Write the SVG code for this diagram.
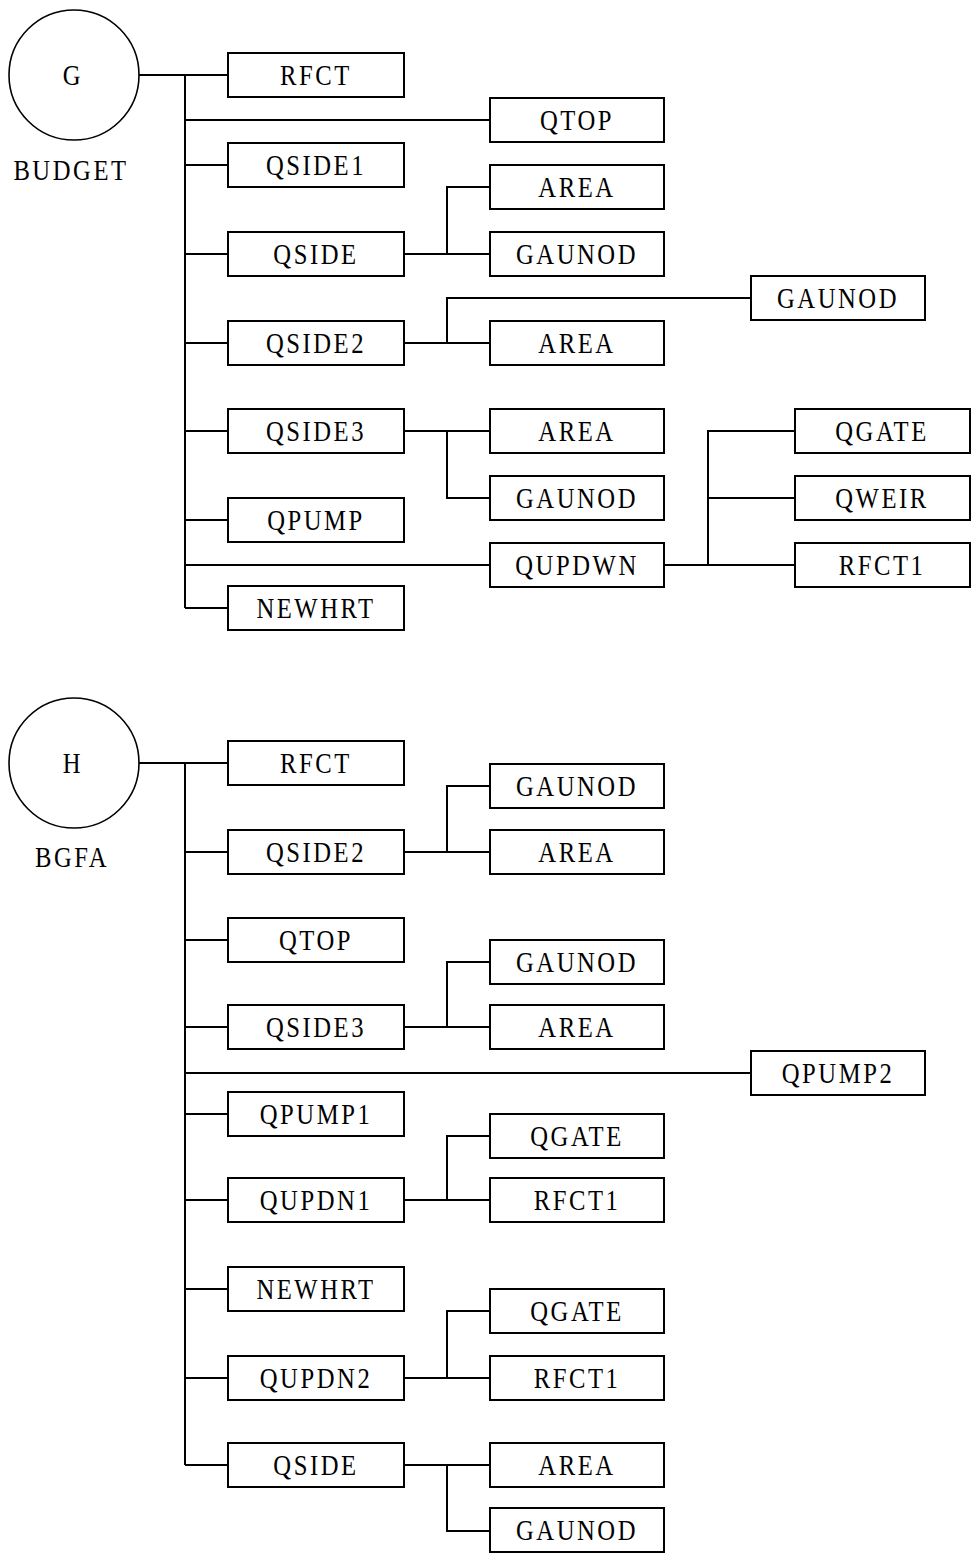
<svg xmlns="http://www.w3.org/2000/svg" width="973" height="1553" viewBox="0 0 973 1553">
<style>
.b{fill:#fff;stroke:#000;stroke-width:2}
.c{fill:#fff;stroke:#000;stroke-width:1.6}
.t{font-family:"Liberation Serif","Times New Roman",serif;font-size:29px;letter-spacing:3px;text-anchor:middle;fill:#000}
.w{fill:none;stroke:#000;stroke-width:2}
</style>
<rect width="973" height="1553" fill="#fff"/>
<g id="connectors" class="w">
<path d="M139 75H228M185 75V608M185 120H490M185 165H228M185 254H228M185 343H228M185 431H228M185 520H228M185 565H490M185 608H228"/>
<path d="M404 254H490M447 254V187H490"/>
<path d="M404 343H490M447 343V298H751"/>
<path d="M404 431H490M447 431V498H490"/>
<path d="M664 565H795M708 565V431H795M708 498H795"/>
<path d="M139 763H228M185 763V1465M185 852H228M185 940H228M185 1027H228M185 1073H751M185 1114H228M185 1200H228M185 1289H228M185 1378H228M185 1465H228"/>
<path d="M404 852H490M447 852V786H490"/>
<path d="M404 1027H490M447 1027V962H490"/>
<path d="M404 1200H490M447 1200V1136H490"/>
<path d="M404 1378H490M447 1378V1311H490"/>
<path d="M404 1465H490M447 1465V1531H490"/>
</g>
<g id="G"><circle class="c" cx="74" cy="75" r="65"/><text class="t" transform="translate(73,85) scale(0.85,1)">G</text><text class="t" transform="translate(71,180) scale(0.85,1)">BUDGET</text></g>
<g id="g_rfct"><rect class="b" x="228" y="53" width="176" height="44"/><text class="t" transform="translate(316,85) scale(0.85,1)">RFCT</text></g>
<g id="g_qtop"><rect class="b" x="490" y="98" width="174" height="44"/><text class="t" transform="translate(577,130) scale(0.85,1)">QTOP</text></g>
<g id="g_qside1"><rect class="b" x="228" y="143" width="176" height="44"/><text class="t" transform="translate(316,175) scale(0.85,1)">QSIDE1</text></g>
<g id="g_area1"><rect class="b" x="490" y="165" width="174" height="44"/><text class="t" transform="translate(577,197) scale(0.85,1)">AREA</text></g>
<g id="g_qside"><rect class="b" x="228" y="232" width="176" height="44"/><text class="t" transform="translate(316,264) scale(0.85,1)">QSIDE</text></g>
<g id="g_gaunod1"><rect class="b" x="490" y="232" width="174" height="44"/><text class="t" transform="translate(577,264) scale(0.85,1)">GAUNOD</text></g>
<g id="g_gaunod2"><rect class="b" x="751" y="276" width="174" height="44"/><text class="t" transform="translate(838,308) scale(0.85,1)">GAUNOD</text></g>
<g id="g_qside2"><rect class="b" x="228" y="321" width="176" height="44"/><text class="t" transform="translate(316,353) scale(0.85,1)">QSIDE2</text></g>
<g id="g_area2"><rect class="b" x="490" y="321" width="174" height="44"/><text class="t" transform="translate(577,353) scale(0.85,1)">AREA</text></g>
<g id="g_qside3"><rect class="b" x="228" y="409" width="176" height="44"/><text class="t" transform="translate(316,441) scale(0.85,1)">QSIDE3</text></g>
<g id="g_area3"><rect class="b" x="490" y="409" width="174" height="44"/><text class="t" transform="translate(577,441) scale(0.85,1)">AREA</text></g>
<g id="g_qgate"><rect class="b" x="795" y="409" width="175" height="44"/><text class="t" transform="translate(882,441) scale(0.85,1)">QGATE</text></g>
<g id="g_gaunod3"><rect class="b" x="490" y="476" width="174" height="44"/><text class="t" transform="translate(577,508) scale(0.85,1)">GAUNOD</text></g>
<g id="g_qweir"><rect class="b" x="795" y="476" width="175" height="44"/><text class="t" transform="translate(882,508) scale(0.85,1)">QWEIR</text></g>
<g id="g_qpump"><rect class="b" x="228" y="498" width="176" height="44"/><text class="t" transform="translate(316,530) scale(0.85,1)">QPUMP</text></g>
<g id="g_qupdwn"><rect class="b" x="490" y="543" width="174" height="44"/><text class="t" transform="translate(577,575) scale(0.85,1)">QUPDWN</text></g>
<g id="g_rfct1"><rect class="b" x="795" y="543" width="175" height="44"/><text class="t" transform="translate(882,575) scale(0.85,1)">RFCT1</text></g>
<g id="g_newhrt"><rect class="b" x="228" y="586" width="176" height="44"/><text class="t" transform="translate(316,618) scale(0.85,1)">NEWHRT</text></g>
<g id="H"><circle class="c" cx="74" cy="763" r="65"/><text class="t" transform="translate(73,773) scale(0.85,1)">H</text><text class="t" transform="translate(72,867) scale(0.85,1)">BGFA</text></g>
<g id="h_rfct"><rect class="b" x="228" y="741" width="176" height="44"/><text class="t" transform="translate(316,773) scale(0.85,1)">RFCT</text></g>
<g id="h_gaunod1"><rect class="b" x="490" y="764" width="174" height="44"/><text class="t" transform="translate(577,796) scale(0.85,1)">GAUNOD</text></g>
<g id="h_qside2"><rect class="b" x="228" y="830" width="176" height="44"/><text class="t" transform="translate(316,862) scale(0.85,1)">QSIDE2</text></g>
<g id="h_area1"><rect class="b" x="490" y="830" width="174" height="44"/><text class="t" transform="translate(577,862) scale(0.85,1)">AREA</text></g>
<g id="h_qtop"><rect class="b" x="228" y="918" width="176" height="44"/><text class="t" transform="translate(316,950) scale(0.85,1)">QTOP</text></g>
<g id="h_gaunod2"><rect class="b" x="490" y="940" width="174" height="44"/><text class="t" transform="translate(577,972) scale(0.85,1)">GAUNOD</text></g>
<g id="h_qside3"><rect class="b" x="228" y="1005" width="176" height="44"/><text class="t" transform="translate(316,1037) scale(0.85,1)">QSIDE3</text></g>
<g id="h_area2"><rect class="b" x="490" y="1005" width="174" height="44"/><text class="t" transform="translate(577,1037) scale(0.85,1)">AREA</text></g>
<g id="h_qpump2"><rect class="b" x="751" y="1051" width="174" height="44"/><text class="t" transform="translate(838,1083) scale(0.85,1)">QPUMP2</text></g>
<g id="h_qpump1"><rect class="b" x="228" y="1092" width="176" height="44"/><text class="t" transform="translate(316,1124) scale(0.85,1)">QPUMP1</text></g>
<g id="h_qgate1"><rect class="b" x="490" y="1114" width="174" height="44"/><text class="t" transform="translate(577,1146) scale(0.85,1)">QGATE</text></g>
<g id="h_qupdn1"><rect class="b" x="228" y="1178" width="176" height="44"/><text class="t" transform="translate(316,1210) scale(0.85,1)">QUPDN1</text></g>
<g id="h_rfct1a"><rect class="b" x="490" y="1178" width="174" height="44"/><text class="t" transform="translate(577,1210) scale(0.85,1)">RFCT1</text></g>
<g id="h_newhrt"><rect class="b" x="228" y="1267" width="176" height="44"/><text class="t" transform="translate(316,1299) scale(0.85,1)">NEWHRT</text></g>
<g id="h_qgate2"><rect class="b" x="490" y="1289" width="174" height="44"/><text class="t" transform="translate(577,1321) scale(0.85,1)">QGATE</text></g>
<g id="h_qupdn2"><rect class="b" x="228" y="1356" width="176" height="44"/><text class="t" transform="translate(316,1388) scale(0.85,1)">QUPDN2</text></g>
<g id="h_rfct1b"><rect class="b" x="490" y="1356" width="174" height="44"/><text class="t" transform="translate(577,1388) scale(0.85,1)">RFCT1</text></g>
<g id="h_qside"><rect class="b" x="228" y="1443" width="176" height="44"/><text class="t" transform="translate(316,1475) scale(0.85,1)">QSIDE</text></g>
<g id="h_area3"><rect class="b" x="490" y="1443" width="174" height="44"/><text class="t" transform="translate(577,1475) scale(0.85,1)">AREA</text></g>
<g id="h_gaunod3"><rect class="b" x="490" y="1508" width="174" height="44"/><text class="t" transform="translate(577,1540) scale(0.85,1)">GAUNOD</text></g>
</svg>
